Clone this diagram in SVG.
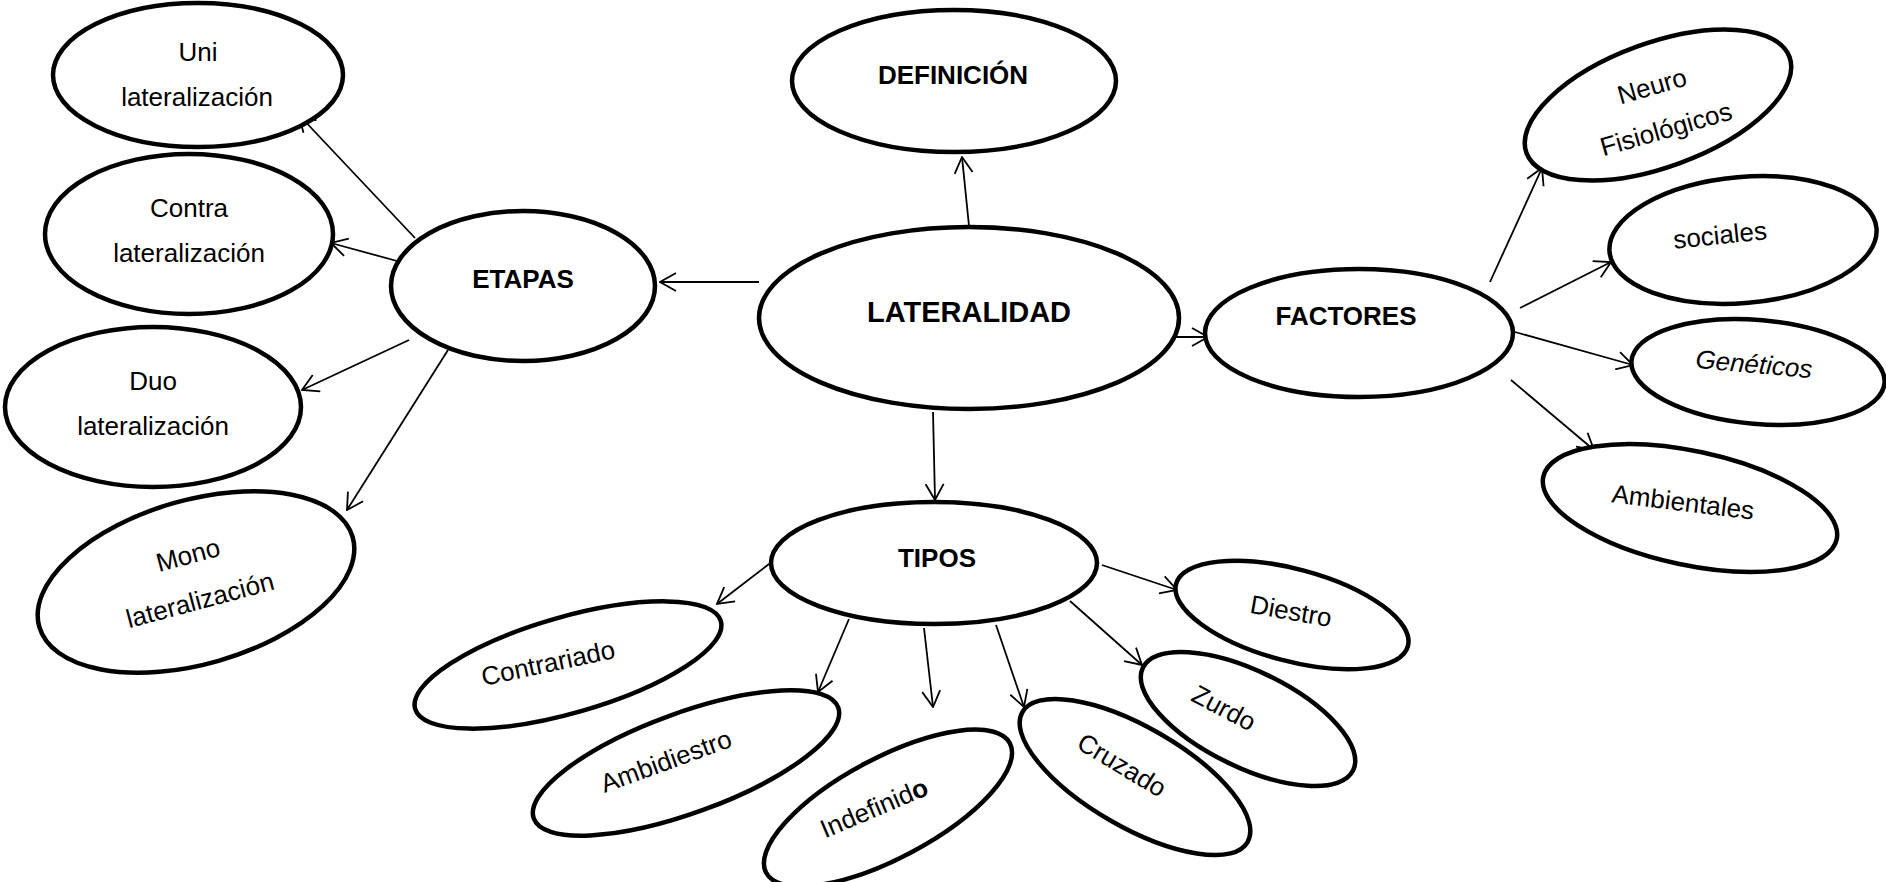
<svg xmlns="http://www.w3.org/2000/svg" width="1886" height="882" viewBox="0 0 1886 882">
<defs>
<style>
.n ellipse{fill:#fff;stroke:#000;stroke-width:4.5}
text{font-family:"Liberation Sans",Arial,sans-serif;font-size:26px;fill:#000;text-anchor:middle}
.b{font-weight:bold}
#edges line{stroke:#000;stroke-width:1.8;marker-end:url(#ah)}
</style>
<marker id="ah" viewBox="0 0 18 20" refX="17" refY="10" markerWidth="18" markerHeight="20" orient="auto" markerUnits="userSpaceOnUse">
<path d="M1,1 L17,10 L1,19" fill="none" stroke="#000" stroke-width="1.8"/>
</marker>
</defs>
<rect width="1886" height="882" fill="#fff"/>
<g id="edges">
<line x1="415" y1="238" x2="299" y2="115"/>
<line x1="397" y1="261" x2="331" y2="243"/>
<line x1="409" y1="340" x2="302" y2="390"/>
<line x1="448" y1="350" x2="347" y2="510"/>
<line x1="759" y1="282" x2="660" y2="282"/>
<line x1="969" y1="226" x2="962" y2="157"/>
<line x1="1168" y1="337" x2="1208" y2="337"/>
<line x1="933" y1="412" x2="935" y2="500"/>
<line x1="1490" y1="282" x2="1542" y2="168"/>
<line x1="1520" y1="308" x2="1611" y2="262"/>
<line x1="1515" y1="332" x2="1633" y2="365"/>
<line x1="1511" y1="380" x2="1594" y2="450"/>
<line x1="769" y1="564" x2="717" y2="604"/>
<line x1="849" y1="619" x2="818" y2="692"/>
<line x1="924" y1="628" x2="933" y2="707"/>
<line x1="996" y1="625" x2="1024" y2="707"/>
<line x1="1070" y1="601" x2="1142" y2="665"/>
<line x1="1102" y1="565" x2="1177" y2="590"/>
</g>
<g id="uni" class="n"><ellipse cx="198" cy="75" rx="145" ry="72"/><text x="198" y="61">Uni</text><text x="197" y="106">lateralización</text></g>
<g id="contra" class="n"><ellipse cx="189" cy="234" rx="144" ry="80"/><text x="189" y="217">Contra</text><text x="189" y="262">lateralización</text></g>
<g id="etapas" class="n"><ellipse cx="523" cy="286" rx="132" ry="75"/><text class="b" x="523" y="288">ETAPAS</text></g>
<g id="duo" class="n"><ellipse cx="153" cy="407" rx="148" ry="80"/><text x="153" y="390">Duo</text><text x="153" y="435">lateralización</text></g>
<g id="mono" class="n"><ellipse cx="0" cy="0" rx="163" ry="82" transform="translate(196,582) rotate(-16)"/><text x="0" y="9" transform="translate(188,555) rotate(-15)">Mono</text><text x="0" y="9" transform="translate(200,600) rotate(-15)">lateralización</text></g>
<g id="definicion" class="n"><ellipse cx="954" cy="81" rx="162" ry="71"/><text class="b" x="953" y="84">DEFINICIÓN</text></g>
<g id="lateralidad" class="n"><ellipse cx="969" cy="318" rx="210" ry="91"/><text class="b" x="969" y="322" style="font-size:29px">LATERALIDAD</text></g>
<g id="factores" class="n"><ellipse cx="1359" cy="333" rx="154" ry="64"/><text class="b" x="1346" y="325">FACTORES</text></g>
<g id="neuro" class="n"><ellipse cx="0" cy="0" rx="140" ry="62" transform="translate(1658,105) rotate(-20)"/><text x="0" y="9" transform="translate(1652,86) rotate(-16)">Neuro</text><text x="0" y="9" transform="translate(1666,129) rotate(-16)">Fisiológicos</text></g>
<g id="sociales" class="n"><ellipse cx="0" cy="0" rx="134" ry="63" transform="translate(1743,240) rotate(-5)"/><text x="0" y="9" transform="translate(1720,235) rotate(-6)">sociales</text></g>
<g id="geneticos" class="n"><ellipse cx="0" cy="0" rx="127" ry="52" transform="translate(1758,372) rotate(5)"/><text x="0" y="9" font-style="italic" transform="translate(1754,364) rotate(5)">Genéticos</text></g>
<g id="ambientales" class="n"><ellipse cx="0" cy="0" rx="150" ry="57" transform="translate(1690,508) rotate(12)"/><text x="0" y="9" transform="translate(1683,502) rotate(7)">Ambientales</text></g>
<g id="tipos" class="n"><ellipse cx="934" cy="563" rx="163" ry="61"/><text class="b" x="937" y="567">TIPOS</text></g>
<g id="contrariado" class="n"><ellipse cx="0" cy="0" rx="159" ry="48" transform="translate(568,665) rotate(-16)"/><text x="0" y="9" transform="translate(548,663) rotate(-12)">Contrariado</text></g>
<g id="ambidiestro" class="n"><ellipse cx="0" cy="0" rx="162" ry="50" transform="translate(686,763) rotate(-20)"/><text x="0" y="9" transform="translate(666,761) rotate(-20)">Ambidiestro</text></g>
<g id="indefinido" class="n"><ellipse cx="0" cy="0" rx="138" ry="50" transform="translate(888,808) rotate(-28)"/><text x="0" y="9" transform="translate(874,808) rotate(-23)">Indefinid<tspan class="b">o</tspan></text></g>
<g id="cruzado" class="n"><ellipse cx="0" cy="0" rx="130" ry="50" transform="translate(1135,777) rotate(30)"/><text x="0" y="9" transform="translate(1122,765) rotate(31)">Cruzado</text></g>
<g id="zurdo" class="n"><ellipse cx="0" cy="0" rx="117" ry="48" transform="translate(1248,719) rotate(26)"/><text x="0" y="9" transform="translate(1224,708) rotate(28)">Zurdo</text></g>
<g id="diestro" class="n"><ellipse cx="0" cy="0" rx="120" ry="46" transform="translate(1292,615) rotate(15)"/><text x="0" y="9" transform="translate(1291,611) rotate(10)">Diestro</text></g>
</svg>
